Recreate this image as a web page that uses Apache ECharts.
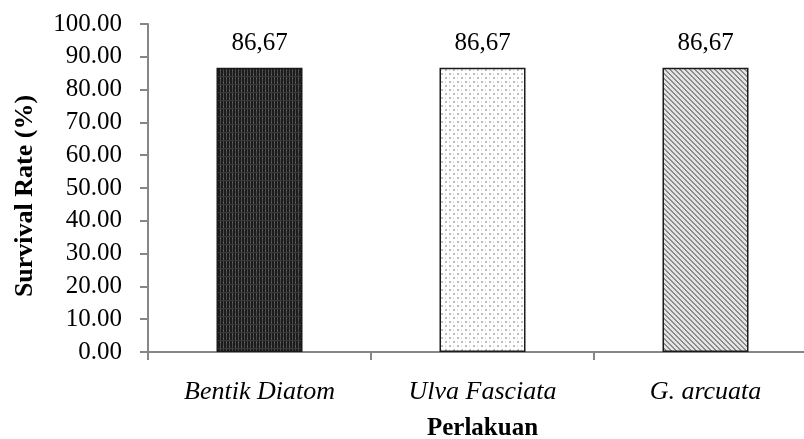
<!DOCTYPE html>
<html>
<head>
<meta charset="utf-8">
<script src="https://cdn.jsdelivr.net/npm/echarts@6/dist/echarts.min.js"></script>
<style>html,body{margin:0;padding:0;background:#fff}#c{width:804px;height:439px}</style>
</head>
<body>
<div id="c"></div>
<script>
const categories = ['Bentik Diatom', 'Ulva Fasciata', 'G. arcuata'];
const survivalRate = [86.67, 86.67, 86.67];
const yTicks = { min: 0, max: 100, interval: 10 };

function makeTile(w, h, draw) {
  const c = document.createElement('canvas');
  c.width = w; c.height = h;
  draw(c.getContext('2d'));
  return c;
}
// dark checked / grid pattern
const darkTile = makeTile(6, 8, g => {
  g.fillStyle = '#1c1c1c'; g.fillRect(0, 0, 6, 8);
  g.fillStyle = '#4a4a4a'; g.fillRect(1, 0, 1, 8); g.fillRect(4, 0, 1, 8);
  g.fillStyle = '#6a6a6a'; g.fillRect(1, 2, 1, 1); g.fillRect(4, 6, 1, 1);
  g.fillStyle = '#3a3a3a'; g.fillRect(0, 4, 6, 1);
});
// light dotted pattern
const dotTile = makeTile(8, 8, g => {
  g.fillStyle = '#ffffff'; g.fillRect(0, 0, 8, 8);
  g.fillStyle = '#bdbdbd'; g.fillRect(1, 1, 2, 2); g.fillRect(5, 5, 2, 2);
  g.fillStyle = '#dedede'; g.fillRect(5, 1, 1, 2); g.fillRect(1, 5, 1, 2);
});
// diagonal "\" stripes
const stripeTile = makeTile(5, 5, g => {
  g.fillStyle = '#e4e4e4'; g.fillRect(0, 0, 5, 5);
  g.fillStyle = '#8c8c8c';
  for (let i = 0; i < 5; i++) { g.fillRect(i, i, 1, 1); g.fillRect((i + 1) % 5, i, 1, 1); }
});
const patterns = [darkTile, dotTile, stripeTile];

const chart = echarts.init(document.getElementById('c'), null, { renderer: 'canvas' });
const serif = '"Liberation Serif", "Times New Roman", serif';
chart.setOption({
  animation: false,
  backgroundColor: '#fff',
  grid: { left: 148, top: 24, width: 669, height: 328, containLabel: false, outerBoundsMode: 'none' },
  xAxis: {
    type: 'category',
    data: categories,
    name: 'Perlakuan',
    nameLocation: 'middle',
    nameGap: 64,
    nameTextStyle: { fontFamily: serif, fontWeight: 'bold', fontSize: 25, color: '#000' },
    axisLine: { lineStyle: { color: '#868686', width: 2 } },
    axisTick: { show: true, length: 8, lineStyle: { color: '#868686', width: 2 } },
    axisLabel: { fontFamily: serif, fontStyle: 'italic', fontSize: 26, color: '#000', margin: 27 }
  },
  yAxis: {
    type: 'value',
    min: yTicks.min, max: yTicks.max, interval: yTicks.interval,
    name: 'Survival Rate (%)',
    nameLocation: 'middle',
    nameGap: 110,
    nameTextStyle: { fontFamily: serif, fontWeight: 'bold', fontSize: 26, color: '#000', padding: [0, 16, 0, 0] },
    axisLine: { show: true, lineStyle: { color: '#868686', width: 2 } },
    axisTick: { show: true, length: 8, lineStyle: { color: '#868686', width: 2 } },
    splitLine: { show: false },
    axisLabel: { fontFamily: serif, fontSize: 25, color: '#000', margin: 26, formatter: v => v.toFixed(2) }
  },
  series: [{
    type: 'bar',
    barWidth: 86,
    data: survivalRate.map((v, i) => ({
      value: v,
      itemStyle: { color: { image: patterns[i], repeat: 'repeat' }, borderColor: '#1a1a1a', borderWidth: 1.5 }
    })),
    label: {
      show: true, position: 'top', distance: 12,
      fontFamily: serif, fontSize: 25, color: '#000',
      formatter: p => p.value.toFixed(2).replace('.', ',')
    }
  }]
});
</script>
</body>
</html>
